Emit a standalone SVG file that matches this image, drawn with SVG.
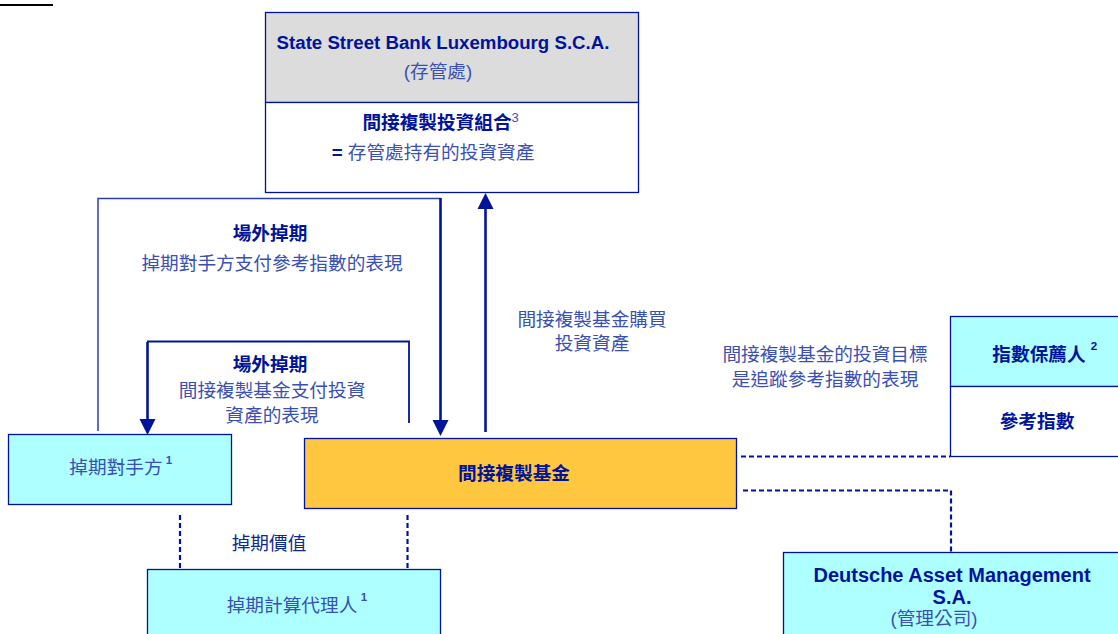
<svg xmlns="http://www.w3.org/2000/svg" width="1118" height="634" viewBox="0 0 1118 634">
<style>
text{font-family:"Liberation Sans","Noto Sans CJK TC",sans-serif;font-size:18.67px;text-anchor:middle}
.b{fill:#00149b;font-weight:700}
.r{fill:#3a50b4}
.n{fill:#0f2a8f}
.s{font-size:11.5px}
.box{stroke:#00149b;stroke-width:1.3}
.ln{fill:none;stroke:#2a3fa8;stroke-width:1.5}
.ln1{fill:none;stroke:#00149b;stroke-width:1.8}
.ln2{fill:none;stroke:#00149b;stroke-width:2.6}
.d{fill:none;stroke:#00149b;stroke-width:2.2;stroke-dasharray:5 3}
.h{fill:#00149b}
</style>
<g id="connectors">
<path class="ln" d="M98 431V198.500H441"/>
<path class="ln2" d="M440.500 198V422"/>
<path class="h" d="M432.500 420H448.500L440.500 436Z"/>
<path class="ln2" d="M485.500 432V207"/>
<path class="h" d="M477.500 209H493.500L485.500 193Z"/>
<path class="ln2" d="M147.500 421V342"/>
<path class="h" d="M139.500 419H155.500L147.500 435Z"/>
<path class="ln1" d="M147 341.500H409V423"/>
<path class="d" d="M180 515V568"/>
<path class="d" d="M407.500 515V568"/>
<path class="d" d="M741 456.500H950"/>
<path class="d" d="M743 490.500H951V553"/>
<path d="M0 5H53" stroke="#000" stroke-width="2"/>
</g>
<g id="custodian">
<rect class="box" x="265.500" y="12.500" width="373" height="90" fill="#dcdcdc"/>
<rect class="box" x="265.500" y="102.500" width="373" height="90" fill="#fff"/>
<text class="b" x="443" y="49">State Street Bank Luxembourg S.C.A.</text>
<text class="r" x="438" y="78">(存管處)</text>
<text class="b" x="437" y="129">間接複製投資組合</text>
<text class="r" x="515" y="122" style="font-size:13px">3</text>
<text class="r" x="433" y="159"><tspan class="b">=</tspan> 存管處持有的投資資產</text>
</g>
<g id="label-otc-1">
<text class="b" x="270" y="240">場外掉期</text>
<text class="r" x="272" y="270">掉期對手方支付參考指數的表現</text>
</g>
<g id="label-otc-2">
<text class="b" x="270" y="371">場外掉期</text>
<text class="r" x="272" y="397">間接複製基金支付投資</text>
<text class="r" x="272" y="422">資產的表現</text>
</g>
<g id="label-purchase">
<text class="r" x="592" y="326">間接複製基金購買</text>
<text class="r" x="592" y="350">投資資產</text>
</g>
<g id="label-objective">
<text class="r" x="825" y="361">間接複製基金的投資目標</text>
<text class="r" x="825" y="386">是追蹤參考指數的表現</text>
</g>
<g id="counterparty">
<rect class="box" x="8.500" y="434.500" width="223" height="70" fill="#aeffff"/>
<text class="r" x="116" y="474">掉期對手方</text>
<text class="r s" x="169" y="464" style="font-weight:700">1</text>
</g>
<g id="fund">
<rect class="box" x="304.500" y="438.500" width="432" height="70" fill="#ffc63f"/>
<text class="b" x="514" y="480">間接複製基金</text>
</g>
<g id="label-swap-value">
<text class="n" x="269" y="550">掉期價值</text>
</g>
<g id="calculation-agent">
<rect class="box" x="147.500" y="569.500" width="293" height="70" fill="#aeffff"/>
<text class="r" x="292" y="612">掉期計算代理人</text>
<text class="r s" x="364" y="601" style="font-weight:700">1</text>
</g>
<g id="index-sponsor">
<rect class="box" x="950.500" y="316.500" width="175" height="70" fill="#aeffff"/>
<rect class="box" x="950.500" y="386.500" width="175" height="70" fill="#fff"/>
<text class="b" x="1039" y="361">指數保薦人</text>
<text class="b s" x="1094" y="350">2</text>
<text class="b" x="1037" y="428">參考指數</text>
</g>
<g id="management-company">
<rect class="box" x="783.500" y="552.500" width="345" height="90" fill="#aeffff"/>
<text class="b" x="952" y="582" style="font-size:20px">Deutsche Asset Management</text>
<text class="b" x="952" y="604" style="font-size:20px">S.A.</text>
<text class="r" x="934" y="625">(管理公司)</text>
</g>
</svg>
